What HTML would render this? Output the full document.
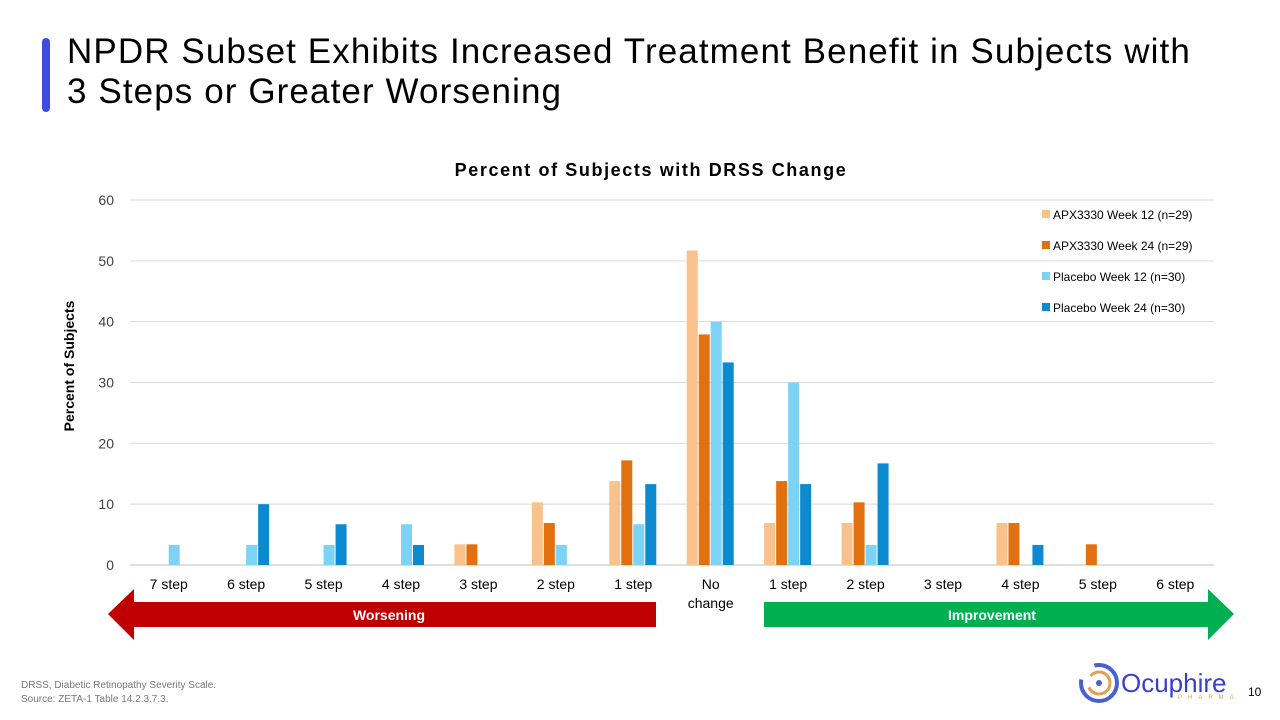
<!DOCTYPE html>
<html><head><meta charset="utf-8"><style>
body{margin:0;width:1280px;height:720px;background:#fff;font-family:"Liberation Sans",sans-serif;position:relative;overflow:hidden}
.abs{position:absolute}
</style></head><body>
<div class="abs" style="left:42px;top:38px;width:8px;height:74px;background:#3d4be0;border-radius:4px"></div>
<div class="abs" style="left:67px;top:32px;font-size:35px;line-height:40px;letter-spacing:1.1px;color:#000;white-space:nowrap">NPDR Subset Exhibits Increased Treatment Benefit in Subjects with<br>3 Steps or Greater Worsening</div>
<svg class="abs" style="left:0;top:0" width="1280" height="720" id="chart">
<text x="651" y="176" text-anchor="middle" font-size="18" font-weight="bold" letter-spacing="1.6">Percent of Subjects with DRSS Change</text>
<text transform="translate(74,366) rotate(-90)" text-anchor="middle" font-size="14" font-weight="bold">Percent of Subjects</text>
<g id="grid"></g><g id="bars"></g><g id="xl"></g><g id="legend"></g>
<g><polygon points="108,614 134,589 134,602 656,602 656,627 134,627 134,640" fill="#c00000"/><text x="389" y="620" fill="#fff" font-size="14" font-weight="bold" text-anchor="middle">Worsening</text></g>
<g><polygon points="764,602 1208,602 1208,589 1234,614 1208,640 1208,627 764,627" fill="#00b050"/><text x="992" y="620" fill="#fff" font-size="14" font-weight="bold" text-anchor="middle">Improvement</text></g>
<g>
<circle cx="1099" cy="683" r="18" fill="none" stroke="#4a5fd0" stroke-width="4" stroke-dasharray="60 20"/>
<circle cx="1099" cy="683" r="11" fill="none" stroke="#e0a050" stroke-width="3" stroke-dasharray="30 12"/>
<circle cx="1099" cy="683" r="3" fill="#4a5fd0"/>
<text x="1121" y="692" font-size="26" fill="#3a3fc8">Ocuphire</text>
<text x="1178" y="699" font-size="6" fill="#e0a050" letter-spacing="6">PHARMA</text></g>
<text x="1248" y="696" font-size="12">10</text>
<text x="21" y="688" font-size="10" fill="#777">DRSS,  Diabetic Retinopathy Severity Scale.</text>
<text x="21" y="702" font-size="10" fill="#777">Source: ZETA-1 Table 14.2.3.7.3.</text>
</svg>
<script>
const categories=["7 step","6 step","5 step","4 step","3 step","2 step","1 step","No change","1 step","2 step","3 step","4 step","5 step","6 step"];
const apxW12=[0,0,0,0,3.4,10.3,13.8,51.7,6.9,6.9,0,6.9,0,0];
const apxW24=[0,0,0,0,3.4,6.9,17.2,37.9,13.8,10.3,0,6.9,3.4,0];
const plaW12=[3.3,3.3,3.3,6.7,0,3.3,6.7,40,30,3.3,0,0,0,0];
const plaW24=[0,10,6.7,3.3,0,0,13.3,33.3,13.3,16.7,0,3.3,0,0];
const yTicks=[0,10,20,30,40,50,60];
const seriesNames=["APX3330 Week 12 (n=29)","APX3330 Week 24 (n=29)","Placebo Week 12 (n=30)","Placebo Week 24 (n=30)"];
const series=[apxW12,apxW24,plaW12,plaW24];
const colors=["#f9c28c","#e2700f","#7dd3f5","#0b8ad0"];
const NS="http://www.w3.org/2000/svg";
const X0=130,X1=1214,Y0=565,Y1=200;
const y=v=>Y0-(v/60)*(Y0-Y1);
const cw=(X1-X0)/categories.length;
const cx=i=>X0+cw*(i+0.5);
function mk(t,a,p){const e=document.createElementNS(NS,t);for(const k in a)e.setAttribute(k,a[k]);p.appendChild(e);return e;}
const g=document.getElementById('grid');
yTicks.forEach(t=>{
 const l=mk('line',{x1:X0,x2:X1,y1:y(t),y2:y(t),stroke:t==0?'#bfbfbf':'#d9d9d9'},g);
 
 
 const tx=mk('text',{x:X0-16,y:y(t)+5,'text-anchor':'end','font-size':14,fill:'#404040'},g);tx.textContent=t;
 
 
});
const b=document.getElementById('bars');
series.forEach((s,si)=>s.forEach((v,i)=>{
 if(!v)return;
 const r=mk('rect',{x:cx(i)-24+si*12,y:y(v),width:11,height:Y0-y(v),fill:colors[si]},b);
 
 
}));
const xl=document.getElementById('xl');
categories.forEach((c,i)=>{
 const lines=c=="No change"?["No","change"]:[c];
 lines.forEach((ln,j)=>{
  const t=mk('text',{x:cx(i),y:589+j*19,'text-anchor':'middle','font-size':14,fill:'#000'},xl);t.textContent=ln;
  
  
 });
});
const lg=document.getElementById('legend');
seriesNames.forEach((n,i)=>{
 const gg=mk('g',{},lg);
 
 
 mk('rect',{x:1042,y:210+i*31,width:8,height:8,fill:colors[i]},gg);
 const t=mk('text',{x:1053,y:219+i*31,'font-size':12,fill:'#000'},gg);t.textContent=n;
});
</script>
</body></html>
